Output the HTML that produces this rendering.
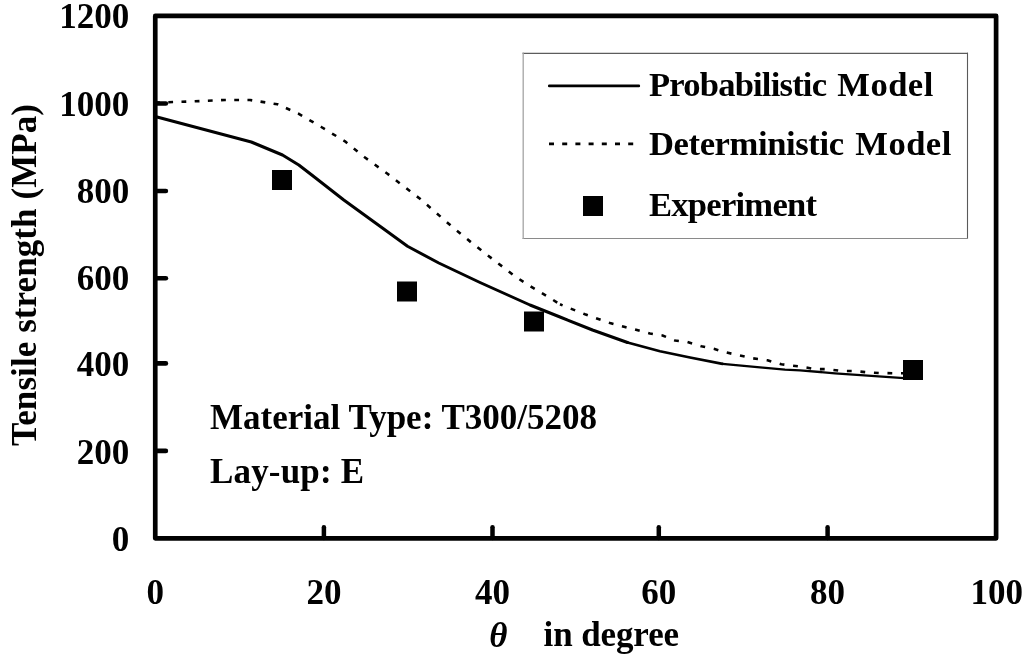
<!DOCTYPE html>
<html>
<head>
<meta charset="utf-8">
<title>Tensile strength vs theta</title>
<style>
  html, body { margin: 0; padding: 0; background: #ffffff; }
  body { width: 1024px; height: 664px; overflow: hidden; }
  svg { display: block; }
  text { font-family: "Liberation Serif", serif; font-weight: bold; font-size: 35px; fill: #000; }
  text.lg { font-size: 34.6px; }
</style>
</head>
<body>
<svg width="1024" height="664" viewBox="0 0 1024 664">
  <rect x="0" y="0" width="1024" height="664" fill="#ffffff"/>
  <g id="all" style="opacity:0.999">

  <!-- plot frame -->
  <rect x="155.25" y="15.9" width="840.85" height="522.45" fill="none" stroke="#000" stroke-width="4.7" stroke-linejoin="round"/>

  <!-- y ticks -->
  <g stroke="#000" stroke-width="4.6" stroke-linecap="round">
    <line x1="156" y1="103.5" x2="165.9" y2="103.5"/>
    <line x1="156" y1="191" x2="165.9" y2="191"/>
    <line x1="156" y1="278.2" x2="165.9" y2="278.2"/>
    <line x1="156" y1="363.4" x2="165.9" y2="363.4"/>
    <line x1="156" y1="450.9" x2="165.9" y2="450.9"/>
  </g>
  <!-- x ticks -->
  <g stroke="#000" stroke-width="4.5" stroke-linecap="round">
    <line x1="323.9" y1="538" x2="323.9" y2="527.3"/>
    <line x1="492.5" y1="538" x2="492.5" y2="527.3"/>
    <line x1="658.8" y1="538" x2="658.8" y2="527.3"/>
    <line x1="827.6" y1="538" x2="827.6" y2="527.3"/>
  </g>

  <!-- y tick labels -->
  <g text-anchor="end">
    <text x="129.3" y="28.2">1200</text>
    <text x="129.3" y="115.7">1000</text>
    <text x="129.3" y="203">800</text>
    <text x="129.3" y="290.3">600</text>
    <text x="129.3" y="376">400</text>
    <text x="129.3" y="463.5">200</text>
    <text x="129.3" y="551">0</text>
  </g>
  <!-- x tick labels -->
  <g text-anchor="middle">
    <text x="155.2" y="603.7">0</text>
    <text x="323.9" y="603.7">20</text>
    <text x="492.5" y="603.7">40</text>
    <text x="658.8" y="603.7">60</text>
    <text x="827.6" y="603.7">80</text>
    <text x="996.8" y="603.7">100</text>
  </g>

  <!-- axis titles -->
  <text transform="translate(36,446) rotate(-90)" x="0" y="0" textLength="342" lengthAdjust="spacing">Tensile strength (MPa)</text>
  <text x="489.3" y="646.6" style="font-style:italic">θ</text>
  <text x="543.6" y="646" textLength="135.5" lengthAdjust="spacing">in degree</text>

  <!-- deterministic (dotted) -->
  <g fill="none" stroke="#000" stroke-width="2.6" stroke-dasharray="4.8 8.4" stroke-linejoin="round">
    <polyline stroke-dashoffset="1.9" points="157,102.6 195,101.3 225,100 250,100 277.5,104.3 298.8,113.8 321.3,127 345,141.3 365,157.5 387.5,173.8 420,198.8 451.3,226 471.3,242.5 492.5,259 515,276.3 526.3,283.8 550,298 560,304.3"/>
    <polyline stroke-dasharray="4.8 8.75" stroke-dashoffset="2" points="560,304.3 585,314.3 610,323 625,327 635,329.5 650,333.5 662.5,335.5 675,340.5 687.5,342 701.3,346.3 713.8,348.8 726.3,352.5 740,355.5 752.5,358.3 767.5,360.3 781.3,364.3 801,366.6 814.4,369 827.5,369.2 840.6,370.9 853.8,371 866.9,372.3 880,373.1 904,373.3"/>
  </g>

  <!-- probabilistic (solid) -->
  <g fill="none" stroke="#000" stroke-linejoin="round" stroke-linecap="round">
    <polyline stroke-width="3" points="157,117 251.3,142 282.5,155 298.8,165 315,177.5 343.8,200 380,226.3 407.5,246.3 438.8,263 480,282.5 530,305 560,317 592.5,330 627.5,342.5"/>
    <polyline stroke-width="2.7" points="627.5,342.5 660,351.3 690,357.5 722.5,363.8"/>
    <polyline stroke-width="2.3" points="722.5,363.8 760,367.3 785,369.6 800,370.3 835,373.3 904,378.2"/>
  </g>

  <!-- experiment markers -->
  <g fill="#000">
    <rect x="272" y="170" width="20" height="20"/>
    <rect x="397" y="281.5" width="20" height="20"/>
    <rect x="524" y="311.5" width="20" height="20"/>
    <rect x="903" y="360" width="20" height="20"/>
  </g>

  <!-- legend -->
  <rect x="523.2" y="53.1" width="444.2" height="185.3" fill="#ffffff" stroke="none"/>
  <line x1="522.6" y1="53.35" x2="968" y2="53.35" stroke="#5c5c5c" stroke-width="1.25"/>
  <line x1="967.5" y1="52.7" x2="967.5" y2="239" stroke="#5a5a5a" stroke-width="1.1"/>
  <line x1="522.6" y1="238.45" x2="968" y2="238.45" stroke="#8a8a8a" stroke-width="1.1"/>
  <line x1="523.2" y1="52.5" x2="523.2" y2="239" stroke="#a4a4a4" stroke-width="1.3"/>
  <line x1="549.3" y1="85.9" x2="638.8" y2="85.9" stroke="#000" stroke-width="2.7" stroke-linecap="round"/>
  <line x1="549" y1="143.9" x2="634" y2="143.9" stroke="#000" stroke-width="2.7" stroke-dasharray="5 8.2"/>
  <rect x="583" y="196" width="20" height="20" fill="#000"/>
  <text class="lg" x="649" y="96" textLength="178" lengthAdjust="spacing">Probabilistic</text>
  <text class="lg" x="837.3" y="96" textLength="96" lengthAdjust="spacing">Model</text>
  <text class="lg" x="649" y="155" textLength="195" lengthAdjust="spacing">Deterministic</text>
  <text class="lg" x="855.3" y="155" textLength="96" lengthAdjust="spacing">Model</text>
  <text class="lg" x="649" y="215.7" textLength="168" lengthAdjust="spacing">Experiment</text>

  <!-- annotations -->
  <text x="210" y="429.3" textLength="387" lengthAdjust="spacing">Material Type: T300/5208</text>
  <text x="210" y="483.3" textLength="154" lengthAdjust="spacing">Lay-up: E</text>
  </g>
</svg>
</body>
</html>
